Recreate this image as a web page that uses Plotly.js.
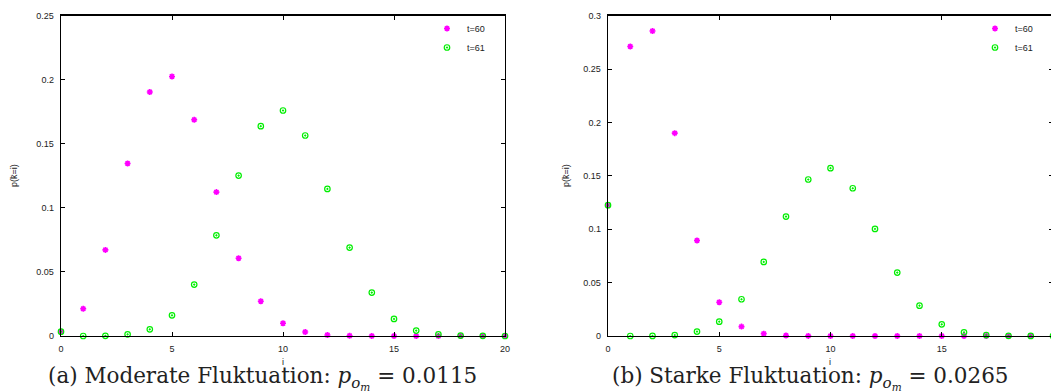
<!DOCTYPE html>
<html>
<head>
<meta charset="utf-8">
<script src="https://cdn.plot.ly/plotly-3.0.1.min.js"></script>
<style>
  html, body { margin: 0; padding: 0; overflow: hidden; background: #fff; }
  #plot { width: 1053px; height: 392px; }
</style>
</head>
<body>
<div id="plot"></div>
<script>
// state index i
const states = [0, 1, 2, 3, 4, 5, 6, 7, 8, 9, 10, 11, 12, 13, 14, 15, 16, 17, 18, 19, 20];

// (a) moderate fluctuation, p_om = 0.0115
const moderateT60 = [0.0034, 0.0213, 0.0672, 0.1346, 0.1904, 0.2026, 0.1688, 0.1123, 0.0607, 0.0271,
                     0.0099, 0.0031, 0.0008, 0.0002, 0.0000, 0.0000, 0.0000, 0.0000, 0.0000, 0.0000, 0.0000];
const moderateT61 = [0.0034, 0.0000, 0.0001, 0.0013, 0.0052, 0.0161, 0.0401, 0.0786, 0.1252, 0.1638,
                     0.1760, 0.1565, 0.1148, 0.0690, 0.0339, 0.0133, 0.0042, 0.0013, 0.0003, 0.0001, 0.0000];

// (b) strong fluctuation, p_om = 0.0265
const strongT60 = [0.1225, 0.2712, 0.2856, 0.1900, 0.0894, 0.0316, 0.0088, 0.0022, 0.0005, 0.0001,
                   0.0000, 0.0000, 0.0000, 0.0000, 0.0000, 0.0000, 0.0000, 0.0000, 0.0000, 0.0000, 0.0000];
const strongT61 = [0.1225, 0.0000, 0.0001, 0.0009, 0.0041, 0.0134, 0.0344, 0.0694, 0.1119, 0.1466,
                   0.1572, 0.1384, 0.1003, 0.0594, 0.0284, 0.0109, 0.0034, 0.0009, 0.0002, 0.0001, 0.0000];

// tick labels
const xTicks = [0, 5, 10, 15, 20];
const xTickText = ['0', '5', '10', '15', '20'];
const yTicksA = [0, 0.05, 0.1, 0.15, 0.2, 0.25];
const yTickTextA = ['0', '0.05', '0.1', '0.15', '0.2', '0.25'];
const yTicksB = [0, 0.05, 0.1, 0.15, 0.2, 0.25, 0.3];
const yTickTextB = ['0', '0.05', '0.1', '0.15', '0.2', '0.25', '0.3'];

const seriesNames = ['t=60', 't=61'];
const captions = [
  '(a) Moderate Fluktuation: <i>p</i><sub><i>o<sub>m</sub></i></sub> = 0.0115',
  '(b) Starke Fluktuation: <i>p</i><sub><i>o<sub>m</sub></i></sub> = 0.0265'
];

const W = 1053, H = 392;
const fx = px => px / W;
const fy = py => 1 - py / H;

const MAGENTA = '#ff00ff';
const GREEN = '#00ee00';

function t60(x, y, xa, ya, lg) {
  return {
    x: x, y: y, xaxis: xa, yaxis: ya, legend: lg,
    type: 'scatter', mode: 'markers', name: seriesNames[0], cliponaxis: false,
    marker: { symbol: 'asterisk-open', size: 5, color: MAGENTA, line: { color: MAGENTA, width: 1.6 } }
  };
}
function t61(x, y, xa, ya, lg) {
  return {
    x: x, y: y, xaxis: xa, yaxis: ya, legend: lg,
    type: 'scatter', mode: 'markers', name: seriesNames[1], cliponaxis: false,
    marker: { symbol: 'circle-open-dot', size: 5.5, color: GREEN, line: { color: GREEN, width: 1.2 } }
  };
}

const data = [
  t60(states, moderateT60, 'x', 'y', 'legend'),
  t61(states, moderateT61, 'x', 'y', 'legend'),
  t60(states, strongT60, 'x2', 'y2', 'legend2'),
  t61(states, strongT61, 'x2', 'y2', 'legend2')
];

const tickFont = { family: 'Liberation Sans, Arial, sans-serif', size: 9, color: '#222' };

function xAxis(domain, anchor) {
  return {
    domain: domain, anchor: anchor, range: [0, 20],
    tickmode: 'array', tickvals: xTicks, ticktext: xTickText,
    ticks: 'inside', ticklen: 4, tickwidth: 1, tickcolor: '#000',
    showline: true, linecolor: '#000', linewidth: 1.3, mirror: 'ticks',
    showgrid: false, zeroline: false, tickfont: tickFont, ticklabelstandoff: 4,
    fixedrange: true
  };
}
function yAxis(domain, anchor, max, vals, text) {
  return {
    domain: domain, anchor: anchor, range: [0, max],
    tickmode: 'array', tickvals: vals, ticktext: text,
    ticks: 'inside', ticklen: 4, tickwidth: 1, tickcolor: '#000',
    showline: true, linecolor: '#000', linewidth: 1.3, mirror: 'ticks',
    showgrid: false, zeroline: false, tickfont: tickFont, ticklabelstandoff: 4,
    fixedrange: true
  };
}

const yDom = [fy(336), fy(15.7)];

const legendStyle = (xr) => ({
  x: xr, xanchor: 'right', y: fy(14), yanchor: 'top',
  bgcolor: 'rgba(0,0,0,0)', borderwidth: 0,
  font: { family: 'Liberation Sans, Arial, sans-serif', size: 9, color: '#222' },
  itemwidth: 30, tracegroupgap: 0
});

const axisTitleFont = { family: 'Liberation Sans, Arial, sans-serif', size: 9, color: '#222' };
const captionFont = { family: 'DejaVu Serif, serif', size: 21.5, color: '#222' };

const layout = {
  width: W, height: H,
  margin: { l: 0, r: 0, t: 0, b: 0 },
  paper_bgcolor: '#fff', plot_bgcolor: '#fff',
  showlegend: true,
  xaxis: xAxis([fx(61), fx(505)], 'y'),
  yaxis: yAxis(yDom, 'x', 0.25, yTicksA, yTickTextA),
  xaxis2: xAxis([fx(608), 1], 'y2'),
  yaxis2: yAxis(yDom, 'x2', 0.3, yTicksB, yTickTextB),
  legend: legendStyle(fx(490)),
  legend2: legendStyle(fx(1038)),
  annotations: [
    { text: 'i', xref: 'paper', yref: 'paper', x: fx(283), y: fy(362), showarrow: false,
      xanchor: 'center', yanchor: 'middle', font: axisTitleFont },
    { text: 'i', xref: 'paper', yref: 'paper', x: fx(830), y: fy(362), showarrow: false,
      xanchor: 'center', yanchor: 'middle', font: axisTitleFont },
    { text: 'p(k\u0304=i)', xref: 'paper', yref: 'paper', x: fx(14), y: fy(176), showarrow: false,
      textangle: -90, xanchor: 'center', yanchor: 'middle', font: axisTitleFont },
    { text: 'p(k\u0304=i)', xref: 'paper', yref: 'paper', x: fx(566), y: fy(176), showarrow: false,
      textangle: -90, xanchor: 'center', yanchor: 'middle', font: axisTitleFont },
    { text: captions[0], xref: 'paper', yref: 'paper', x: fx(262), y: fy(378), showarrow: false,
      xanchor: 'center', yanchor: 'middle', font: captionFont },
    { text: captions[1], xref: 'paper', yref: 'paper', x: fx(810), y: fy(378), showarrow: false,
      xanchor: 'center', yanchor: 'middle', font: captionFont }
  ]
};

Plotly.newPlot('plot', data, layout, { displayModeBar: false, staticPlot: true });
</script>
</body>
</html>
